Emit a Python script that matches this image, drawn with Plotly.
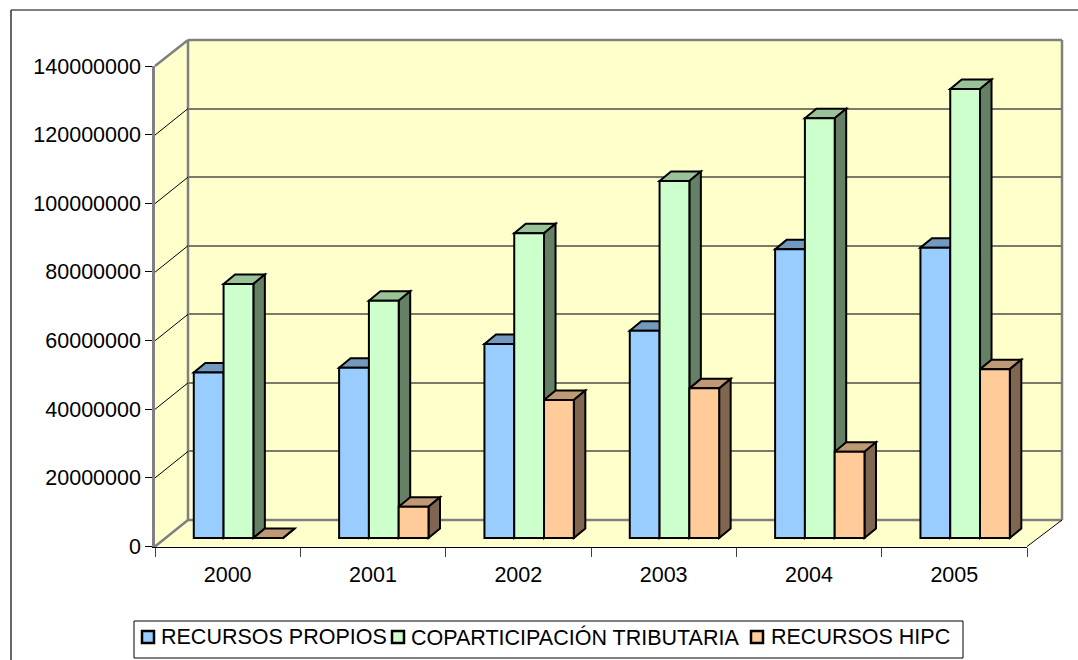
import plotly.graph_objects as go

# ---------------- data ----------------
years = ['2000', '2001', '2002', '2003', '2004', '2005']
recursos_propios = [48.2e6, 49.6e6, 56.5e6, 60.4e6, 84.1e6, 84.6e6]
coparticipacion = [74.0e6, 69.1e6, 88.8e6, 104.0e6, 122.3e6, 130.8e6]
recursos_hipc = [0, 9.1e6, 40.2e6, 43.6e6, 25.1e6, 49.2e6]
series_names = ['RECURSOS PROPIOS', 'COPARTICIPACIÓN TRIBUTARIA', 'RECURSOS HIPC']
y_ticks = [0, 20e6, 40e6, 60e6, 80e6, 100e6, 120e6, 140e6]

# ---------------- styling / geometry ----------------
W, H = 1078, 660
FONT = 'Liberation Sans, Arial, sans-serif'
FS = 21.5
front_col = ['#99CCFF', '#CCFFCC', '#FFCC99']
top_col = ['#7399BF', '#99C299', '#BF9973']
side_col = ['#5C7A99', '#668066', '#806650']
YMAX = 140e6
PXV = 480.5 / YMAX          # pixels per unit value


def fx(p):
    return p / W


def fy(p):
    return 1 - p / H


# planes (window pixel geometry)
FRONT_L, FRONT_R, FRONT_Y0 = 155, 1027, 546.5
BACK_L, BACK_R, BACK_Y0 = 188, 1062, 520
BAR_L, BAR_R, BAR_Y0 = 165.8, 1037.8, 538
BAR_YMIN = -3e6

cat_px = (BAR_R - BAR_L) / 6
bw = 0.205                      # bar width (category units)
dx = 11.5 / cat_px              # depth in x (category units)
dy = 9.5 / PXV                  # depth in y (value units)

fig = go.Figure()

fig.add_trace(go.Scatter(x=[0], y=[0], xaxis='x', yaxis='y', mode='markers',
                         marker=dict(opacity=0), showlegend=False, hoverinfo='skip'))
fig.add_trace(go.Scatter(x=years, y=[0] * 6, xaxis='x2', yaxis='y2', mode='markers',
                         marker=dict(opacity=0), showlegend=False, hoverinfo='skip'))

all_series = [recursos_propios, coparticipacion, recursos_hipc]
xs = list(range(len(years)))
for k, (name, vals) in enumerate(zip(series_names, all_series)):
    off = -1.5 * bw + k * bw
    fig.add_trace(go.Bar(
        x=xs, y=vals, name=name, xaxis='x3', yaxis='y3',
        width=[bw] * 6, offset=[off] * 6,
        marker=dict(color=front_col[k], line=dict(color='black', width=2)),
        hoverinfo='y', showlegend=False))

shapes = []
annotations = []
yellow = '#FFFFCC'
shapes.append(dict(type='path', xref='paper', yref='paper', layer='below',
                   path=f'M{fx(BACK_L)},{fy(40)} L{fx(BACK_R)},{fy(40)} L{fx(BACK_R)},{fy(BACK_Y0)} '
                        f'L{fx(BACK_L)},{fy(BACK_Y0)} Z',
                   fillcolor=yellow, line=dict(width=0)))
shapes.append(dict(type='path', xref='paper', yref='paper', layer='below',
                   path=f'M{fx(FRONT_L)},{fy(66)} L{fx(BACK_L)},{fy(40)} L{fx(BACK_L)},{fy(BACK_Y0)} '
                        f'L{fx(FRONT_L)},{fy(FRONT_Y0)} Z',
                   fillcolor=yellow, line=dict(width=0)))
shapes.append(dict(type='path', xref='paper', yref='paper', layer='below',
                   path=f'M{fx(FRONT_L)},{fy(FRONT_Y0)} L{fx(FRONT_R)},{fy(FRONT_Y0)} '
                        f'L{fx(BACK_R)},{fy(BACK_Y0)} L{fx(BACK_L)},{fy(BACK_Y0)} Z',
                   fillcolor=yellow, line=dict(width=0)))


def pline(x0, y0, x1, y1, color, width):
    shapes.append(dict(type='line', xref='paper', yref='paper', layer='below',
                       x0=fx(x0), y0=fy(y0), x1=fx(x1), y1=fy(y1),
                       line=dict(color=color, width=width)))


gray = '#808080'
pline(BACK_L, 40, BACK_R, 40, gray, 2.5)
pline(BACK_R, 40, BACK_R, BACK_Y0, gray, 2.5)
pline(BACK_L, BACK_Y0, BACK_R, BACK_Y0, gray, 2.5)
pline(BACK_L, 40, BACK_L, BACK_Y0, gray, 2.5)
pline(FRONT_L, 66, BACK_L, 40, gray, 2.5)
pline(FRONT_L, FRONT_Y0, BACK_L, BACK_Y0, gray, 2.5)
pline(FRONT_R, FRONT_Y0, BACK_R, BACK_Y0, 'black', 1)

# left wall diagonal gridlines, using the back-plane value scale
shift = (FRONT_Y0 - BACK_Y0) / PXV
for v in y_ticks[1:-1]:
    shapes.append(dict(type='line', xref='paper', yref='y', layer='below',
                       x0=fx(FRONT_L), y0=v - shift, x1=fx(BACK_L), y1=v,
                       line=dict(color='black', width=1)))

# outer chart-area border (continues past right/bottom of the window)
pline(11, 10, W + 10, 10, 'black', 1.2)
pline(11, 10, 11, H + 10, 'black', 1.2)

# 3D top and side faces of each bar
for i in xs:
    for k, vals in enumerate(all_series):
        v = vals[i]
        x0 = i - 1.5 * bw + k * bw
        x1 = x0 + bw
        shapes.append(dict(type='path', xref='x3', yref='y3', layer='below',
                           path=f'M{x0},{v} L{x0 + dx},{v + dy} L{x1 + dx},{v + dy} L{x1},{v} Z',
                           fillcolor=top_col[k], line=dict(color='black', width=2)))
        shapes.append(dict(type='path', xref='x3', yref='y3', layer='below',
                           path=f'M{x1},0 L{x1 + dx},{dy} L{x1 + dx},{v + dy} L{x1},{v} Z',
                           fillcolor=side_col[k], line=dict(color='black', width=2)))

# ---- legend (box, swatches, labels) ----
LEG_BOX = (134, 621, 963, 658)
LEG_SWATCH_X = [142, 392, 751]
LEG_TEXT_X = [159, 409, 769]
LEG_Y = 637
shapes.append(dict(type='rect', xref='paper', yref='paper', layer='above',
                   x0=fx(LEG_BOX[0]), y0=fy(LEG_BOX[1]), x1=fx(LEG_BOX[2]), y1=fy(LEG_BOX[3]),
                   line=dict(color='black', width=1), fillcolor='white'))
for k, name in enumerate(series_names):
    sx = LEG_SWATCH_X[k]
    shapes.append(dict(type='rect', xref='paper', yref='paper', layer='above',
                       x0=fx(sx), y0=fy(LEG_Y - 6), x1=fx(sx + 12), y1=fy(LEG_Y + 6),
                       line=dict(color='black', width=2.5), fillcolor=front_col[k]))
    annotations.append(dict(xref='paper', yref='paper', x=fx(LEG_TEXT_X[k]), y=fy(LEG_Y),
                            xanchor='left', yanchor='middle', showarrow=False, text=name,
                            font=dict(family=FONT, size=FS, color='black')))

bar_bottom_px = BAR_Y0 - BAR_YMIN * PXV
bar_top_px = BAR_Y0 - YMAX * PXV

fig.update_layout(
    template='none',
    width=W, height=H, autosize=False,
    margin=dict(l=0, r=0, t=0, b=0, pad=0, autoexpand=False),
    paper_bgcolor='white', plot_bgcolor='rgba(0,0,0,0)',
    font=dict(family=FONT, size=FS, color='black'),
    barmode='overlay',
    shapes=shapes,
    annotations=annotations,
    showlegend=False,
    xaxis=dict(domain=[fx(BACK_L), fx(BACK_R)], range=[-0.5, 5.5], visible=False,
               anchor='y', automargin=False),
    yaxis=dict(domain=[fy(BACK_Y0), fy(40)], range=[0, YMAX], anchor='x', automargin=False,
               showgrid=True, gridcolor='#7a7a68', gridwidth=1.5, tickvals=y_ticks,
               showticklabels=False, ticks='', showline=False, zeroline=False),
    xaxis2=dict(domain=[fx(FRONT_L), fx(FRONT_R)], range=[-0.5, 5.5], anchor='y2',
                automargin=False,
                type='category', categoryorder='array', categoryarray=years,
                tickson='boundaries', ticks='outside', ticklen=9, tickcolor='#404040',
                showgrid=False, showline=True, linecolor='black', linewidth=1,
                zeroline=False, tickfont=dict(size=FS), ticklabelstandoff=9),
    yaxis2=dict(domain=[fy(FRONT_Y0), fy(66)], range=[0, YMAX], anchor='x2',
                automargin=False,
                tickvals=y_ticks, tickformat='d', ticks='outside', ticklen=7,
                tickcolor='black', showgrid=False, showline=True, linecolor=gray,
                linewidth=2.5, zeroline=False, tickfont=dict(size=FS)),
    xaxis3=dict(domain=[fx(BAR_L), fx(BAR_R)], range=[-0.5, 5.5], visible=False,
                anchor='y3', automargin=False),
    yaxis3=dict(domain=[fy(bar_bottom_px), fy(bar_top_px)], range=[BAR_YMIN, YMAX],
                visible=False, anchor='x3', automargin=False),
)

fig.write_html('out.html',
               config={'displayModeBar': False},
               post_script="document.body.style.margin='0';document.body.style.overflow='hidden';")
